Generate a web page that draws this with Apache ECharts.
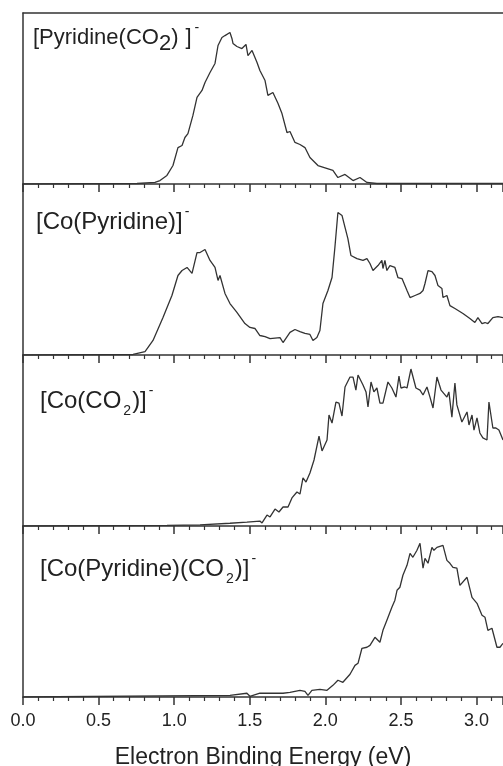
<!DOCTYPE html>
<html>
<head>
<meta charset="utf-8">
<script src="https://cdn.jsdelivr.net/npm/echarts@6/dist/echarts.min.js"></script>
<style>
  html, body { margin: 0; height: 100%; background: #fff; }
  #chart { width: 503px; height: 766px; }
</style>
</head>
<body>
<div id="chart"></div>
<script>
// electron binding energy (eV) and normalised intensity, one pair of arrays per panel

const pyrCo2E = [0.0, 0.754, 0.873, 0.906, 0.952, 0.992, 1.025, 1.052, 1.071, 1.091, 1.124, 1.151, 1.184, 1.204,
  1.237, 1.270, 1.290, 1.316, 1.336, 1.369, 1.382, 1.389, 1.415, 1.448, 1.475, 1.488, 1.515, 1.548, 1.567,
  1.601, 1.620, 1.653, 1.687, 1.713, 1.746, 1.766, 1.799, 1.832, 1.865, 1.898, 1.951, 2.050, 2.083, 2.130,
  2.183, 2.229, 2.275, 2.341, 3.175];
const pyrCo2I = [0.0, 0.003, 0.009, 0.020, 0.050, 0.108, 0.213, 0.225, 0.272, 0.295, 0.401, 0.506, 0.547, 0.594,
  0.652, 0.705, 0.810, 0.857, 0.868, 0.886, 0.851, 0.822, 0.804, 0.792, 0.816, 0.751, 0.781, 0.711, 0.664,
  0.605, 0.518, 0.535, 0.471, 0.412, 0.301, 0.307, 0.243, 0.231, 0.213, 0.155, 0.108, 0.079, 0.038, 0.056,
  0.020, 0.038, 0.009, 0.003, 0.003];

const coPyrE = [0.0, 0.728, 0.807, 0.860, 0.926, 0.985, 1.025, 1.052, 1.085, 1.118, 1.151, 1.171, 1.204, 1.237,
  1.270, 1.290, 1.303, 1.336, 1.369, 1.415, 1.468, 1.501, 1.534, 1.567, 1.601, 1.634, 1.700, 1.720, 1.766,
  1.799, 1.832, 1.865, 1.898, 1.918, 1.944, 1.964, 1.984, 2.017, 2.044, 2.063, 2.083, 2.110, 2.130, 2.149,
  2.169, 2.209, 2.249, 2.275, 2.295, 2.315, 2.348, 2.374, 2.381, 2.394, 2.407, 2.427, 2.460, 2.480, 2.507,
  2.540, 2.560, 2.593, 2.626, 2.646, 2.659, 2.679, 2.705, 2.725, 2.745, 2.771, 2.778, 2.804, 2.824, 2.857,
  2.910, 2.956, 2.989, 3.009, 3.036, 3.056, 3.075, 3.108, 3.142, 3.175];
const coPyrI = [0.0, 0.003, 0.020, 0.085, 0.219, 0.348, 0.465, 0.494, 0.512, 0.477, 0.599, 0.599, 0.617, 0.553,
  0.512, 0.436, 0.465, 0.360, 0.301, 0.249, 0.184, 0.161, 0.155, 0.114, 0.108, 0.096, 0.102, 0.073, 0.132,
  0.149, 0.137, 0.126, 0.120, 0.085, 0.102, 0.143, 0.301, 0.377, 0.453, 0.629, 0.833, 0.816, 0.746, 0.681,
  0.582, 0.564, 0.553, 0.564, 0.535, 0.494, 0.523, 0.553, 0.506, 0.553, 0.494, 0.523, 0.512, 0.453, 0.447,
  0.377, 0.336, 0.348, 0.360, 0.377, 0.418, 0.494, 0.488, 0.465, 0.406, 0.389, 0.336, 0.348, 0.289, 0.272,
  0.243, 0.213, 0.190, 0.219, 0.184, 0.190, 0.184, 0.219, 0.225, 0.219];

const coCo2E = [0.0, 0.952, 1.171, 1.369, 1.481, 1.567, 1.581, 1.614, 1.634, 1.667, 1.693, 1.720, 1.753, 1.779,
  1.812, 1.832, 1.852, 1.872, 1.898, 1.925, 1.958, 1.978, 2.011, 2.024, 2.044, 2.070, 2.090, 2.110, 2.130,
  2.143, 2.163, 2.183, 2.202, 2.216, 2.249, 2.269, 2.282, 2.302, 2.321, 2.341, 2.361, 2.381, 2.414, 2.440,
  2.467, 2.487, 2.500, 2.526, 2.540, 2.566, 2.599, 2.626, 2.646, 2.672, 2.692, 2.712, 2.738, 2.765, 2.778,
  2.804, 2.817, 2.837, 2.857, 2.870, 2.903, 2.937, 2.950, 2.970, 2.983, 3.003, 3.022, 3.042, 3.069, 3.082,
  3.108, 3.128, 3.148, 3.175];
const coCo2I = [0.0, 0.004, 0.006, 0.016, 0.023, 0.029, 0.018, 0.064, 0.053, 0.099, 0.082, 0.111, 0.111, 0.164,
  0.199, 0.187, 0.281, 0.257, 0.310, 0.386, 0.526, 0.439, 0.503, 0.649, 0.602, 0.725, 0.719, 0.643, 0.813,
  0.807, 0.871, 0.871, 0.795, 0.883, 0.825, 0.784, 0.696, 0.842, 0.784, 0.807, 0.719, 0.719, 0.842, 0.807,
  0.754, 0.877, 0.807, 0.813, 0.807, 0.918, 0.807, 0.795, 0.766, 0.813, 0.754, 0.690, 0.871, 0.795, 0.795,
  0.754, 0.784, 0.637, 0.836, 0.708, 0.608, 0.667, 0.591, 0.649, 0.561, 0.632, 0.544, 0.515, 0.503, 0.725,
  0.573, 0.573, 0.561, 0.503];

const coPyrCo2E = [0.0, 1.369, 1.481, 1.501, 1.567, 1.634, 1.720, 1.766, 1.832, 1.865, 1.885, 1.911, 1.964, 2.011,
  2.050, 2.083, 2.116, 2.163, 2.196, 2.216, 2.242, 2.275, 2.295, 2.328, 2.361, 2.381, 2.407, 2.440, 2.460,
  2.474, 2.493, 2.513, 2.540, 2.560, 2.579, 2.606, 2.626, 2.646, 2.659, 2.679, 2.705, 2.718, 2.738, 2.778,
  2.804, 2.824, 2.844, 2.870, 2.890, 2.937, 2.970, 3.003, 3.036, 3.056, 3.075, 3.102, 3.135, 3.155, 3.175];
const coPyrCo2I = [0.0, 0.010, 0.022, 0.004, 0.022, 0.022, 0.022, 0.027, 0.039, 0.033, 0.010, 0.039, 0.045, 0.039,
  0.068, 0.098, 0.086, 0.133, 0.185, 0.197, 0.285, 0.291, 0.302, 0.349, 0.320, 0.390, 0.449, 0.525, 0.566,
  0.624, 0.642, 0.712, 0.770, 0.840, 0.817, 0.858, 0.899, 0.753, 0.811, 0.782, 0.875, 0.858, 0.875, 0.887,
  0.799, 0.782, 0.758, 0.753, 0.653, 0.700, 0.583, 0.548, 0.478, 0.466, 0.390, 0.402, 0.291, 0.291, 0.314];

const xTicks = [0.0, 0.5, 1.0, 1.5, 2.0, 2.5, 3.0];
const xTitle = 'Electron Binding Energy (eV)';

const panels = [
  { e: pyrCo2E, i: pyrCo2I },
  { e: coPyrE, i: coPyrI },
  { e: coCo2E, i: coCo2I },
  { e: coPyrCo2E, i: coPyrCo2I }
];

const ink = '#333';
const font = '"Liberation Sans", Arial, sans-serif';
const panelTop = 13, panelH = 171, left = 23;

let grids = [], xAxes = [], yAxes = [], series = [];
panels.forEach(function (p, k) {
  const last = k === panels.length - 1;
  grids.push({ left: left, right: 0, top: panelTop + panelH * k, height: panelH, outerBoundsMode: 'none' });
  xAxes.push({
    type: 'value', gridIndex: k, min: 0, max: 3.175, interval: 0.5,
    axisLine: { show: true, lineStyle: { color: ink, width: 1.5 } },
    axisTick: { show: true, length: 8, lineStyle: { color: ink, width: 1.5 } },
    minorTick: { show: true, splitNumber: 5, length: 4, lineStyle: { color: ink, width: 1.2 } },
    splitLine: { show: false },
    axisLabel: {
      show: last, showMaxLabel: false, margin: 15, fontSize: 18, color: '#222', fontFamily: font,
      formatter: function (v) { return xTicks.indexOf(v) >= 0 ? v.toFixed(1) : ''; }
    },
    name: last ? xTitle : '', nameLocation: 'middle', nameGap: 49,
    nameTextStyle: { fontSize: 23, color: '#222', fontFamily: font }
  });
  yAxes.push({
    type: 'value', gridIndex: k, min: 0, max: 1,
    axisLine: { show: true, lineStyle: { color: ink, width: 1.5 } },
    axisTick: { show: false }, axisLabel: { show: false }, splitLine: { show: false }
  });
  series.push({
    type: 'line', xAxisIndex: k, yAxisIndex: k, showSymbol: false, animation: false,
    lineStyle: { color: ink, width: 1.3 },
    data: p.e.map(function (x, j) { return [x, p.i[j]]; })
  });
});
// top frame line of the first panel
xAxes.push({
  type: 'value', gridIndex: 0, position: 'top', min: 0, max: 3.175,
  axisLine: { show: true, lineStyle: { color: ink, width: 1.5 } },
  axisTick: { show: false }, axisLabel: { show: false }, splitLine: { show: false }
});

const base = { fontSize: 24, fontFamily: font, fill: '#222', lineHeight: 34 };
const sub = { fontSize: 14, fontFamily: font, fill: '#222', lineHeight: 14, verticalAlign: 'bottom', padding: [0, 1, 0, 2] };
const sup = { fontSize: 14, fontFamily: font, fill: '#222', lineHeight: 14, verticalAlign: 'top', padding: [0, 0, 0, 2] };
function label(x, y, text, rich) {
  return {
    type: 'text', x: x, y: y, z: 10,
    style: { text: text, rich: rich, verticalAlign: 'middle', align: 'left', fill: '#222' }
  };
}
const big = Object.assign({}, base, { fontSize: 22 });
const graphics = [
  label(33, 38, '{a|[Pyridine(CO}{b|2}{a|)}{c|]}{p|-}', {
    a: big,
    b: Object.assign({}, big, { lineHeight: 22, verticalAlign: 'bottom' }),
    c: Object.assign({}, big, { padding: [0, 0, 0, 7] }),
    p: Object.assign({}, sup, { padding: [0, 0, 0, 3] })
  }),
  label(36, 222, '{a|[Co(Pyridine)]}{p|-}', { a: base, p: sup }),
  label(40, 401, '{a|[Co(CO}{b|2}{a|)]}{p|-}', { a: base, b: sub, p: sup }),
  label(40, 569, '{a|[Co(Pyridine)(CO}{b|2}{a|)]}{p|-}', { a: base, b: sub, p: sup })
];

const chart = echarts.init(document.getElementById('chart'));
chart.setOption({
  animation: false,
  grid: grids,
  xAxis: xAxes,
  yAxis: yAxes,
  series: series,
  graphic: graphics
});
</script>
</body>
</html>
